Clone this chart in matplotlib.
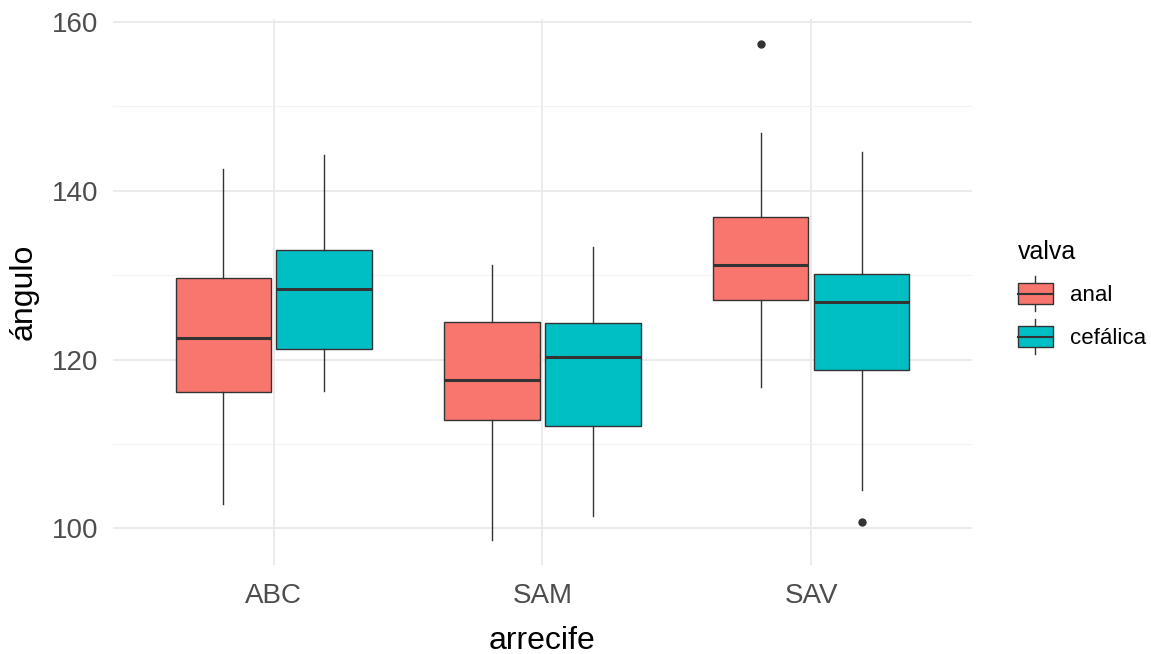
import numpy as np
import matplotlib.pyplot as plt
from matplotlib.legend_handler import HandlerBase
from matplotlib.patches import Rectangle
from matplotlib.lines import Line2D

plt.rcParams['font.family'] = ['Liberation Sans', 'DejaVu Sans']

# values
arrecife = ['ABC', 'SAM', 'SAV']
valva = ['anal', 'cefálica']
colors = ['#F8766D', '#00BFC4']

# (whislo, q1, med, q3, whishi, outliers)
anal_stats = [
    (102.9, 116.2, 122.6, 129.7, 142.6, []),
    (98.6, 112.8, 117.6, 124.5, 131.2, []),
    (116.7, 127.0, 131.2, 136.9, 146.8, [157.4]),
]
cefalica_stats = [
    (116.3, 121.2, 128.3, 133.0, 144.2, []),
    (101.5, 112.1, 120.3, 124.3, 133.3, []),
    (104.5, 118.8, 126.8, 130.1, 144.6, [100.8]),
]

def to_bxp(rows):
    out = []
    for lo, q1, med, q3, hi, fl in rows:
        out.append(dict(whislo=lo, q1=q1, med=med, q3=q3, whishi=hi, fliers=fl))
    return out

edge = '#333333'
grid = '#EBEBEB'

fig = plt.figure(figsize=(11.51, 6.54), dpi=100)
ax = fig.add_axes([0.0978, 0.136, 0.747, 0.835])

x = np.arange(1, len(arrecife) + 1)
offs = [-0.1875, 0.1875]
for i, stats in enumerate([anal_stats, cefalica_stats]):
    ax.bxp(to_bxp(stats), positions=x + offs[i], widths=0.355, patch_artist=True,
           showcaps=False,
           boxprops=dict(facecolor=colors[i], edgecolor=edge, linewidth=1.0),
           medianprops=dict(color=edge, linewidth=2.2),
           whiskerprops=dict(color=edge, linewidth=1.0),
           flierprops=dict(marker='o', markerfacecolor=edge, markeredgecolor=edge,
                           markersize=5),
           zorder=3)

ax.set_xlim(0.4, 3.6)
ax.set_ylim(95.66, 160.34)
ax.set_xticks(x)
ax.set_xticklabels(arrecife)
ax.set_yticks([100, 120, 140, 160])
ax.set_yticks([110, 130, 150], minor=True)
ax.grid(True, which='major', color=grid, linewidth=1.4, zorder=0)
ax.grid(True, which='minor', axis='y', color='#F3F3F3', linewidth=0.8, zorder=0)
for s in ax.spines.values():
    s.set_visible(False)
ax.tick_params(which='both', length=0, labelsize=20, labelcolor='#4D4D4D')
ax.tick_params(axis='x', pad=13)
ax.tick_params(axis='y', pad=10)
ax.set_xlabel('arrecife', fontsize=23, labelpad=12)
ax.set_ylabel('ángulo', fontsize=23, labelpad=10)


class BoxKey(HandlerBase):
    # ggplot-style boxplot glyph for the legend key
    def create_artists(self, legend, orig, xd, yd, w, h, fontsize, trans):
        fc = orig.get_facecolor()
        x0, yb = -xd, -yd
        yc = yb + h / 2
        bh = h * 0.79
        y0 = yc - bh / 2
        r = Rectangle((x0, y0), w, bh, facecolor=fc, edgecolor=edge,
                      linewidth=1.0, transform=trans)
        cx = x0 + w / 2
        m = Line2D([x0, x0 + w], [yc, yc], color=edge, lw=1.5, transform=trans)
        w1 = Line2D([cx, cx], [y0 + bh, yc + h * 0.66], color=edge, lw=1.0, transform=trans)
        w2 = Line2D([cx, cx], [y0, yc - h * 0.66], color=edge, lw=1.0, transform=trans)
        return [w1, w2, r, m]


handles = [Rectangle((0, 0), 1, 1, facecolor=c) for c in colors]
leg = fig.legend(handles, valva, title='valva', loc='upper left',
                 bbox_to_anchor=(0.867, 0.664), frameon=False, fontsize=16,
                 title_fontsize=18, handler_map={Rectangle: BoxKey()},
                 handlelength=1.57, handleheight=1.45, labelspacing=0.75,
                 handletextpad=0.77, alignment='left')

fig.savefig('out.png', dpi=100)
